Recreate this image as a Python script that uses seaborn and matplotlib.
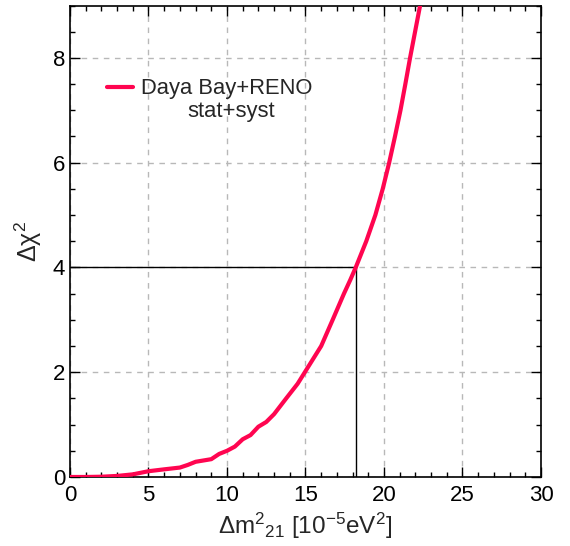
import matplotlib
matplotlib.use("Agg")
import matplotlib.pyplot as plt
import seaborn as sns
import pandas as pd
from matplotlib.ticker import MultipleLocator

# Data
dm2 = [0, 1, 2, 3, 4, 5, 6, 7, 7.5, 8, 9, 9.5, 10, 10.5, 11, 11.5, 12, 12.5,
       13, 13.77, 14.5, 15, 16, 16.73, 17.45, 17.85, 18.2, 18.87, 19.45,
       19.92, 20.33, 20.70, 21.05, 21.36, 21.66, 21.98, 22.3, 22.6]
dchi2 = [0, 0, 0.005, 0.02, 0.05, 0.11, 0.146, 0.18, 0.23, 0.29, 0.34, 0.44,
         0.5, 0.58, 0.72, 0.8, 0.96, 1.05, 1.2, 1.5, 1.78, 2.02, 2.5, 3.0,
         3.5, 3.76, 4.0, 4.5, 5.0, 5.5, 6.0, 6.5, 7.0, 7.5, 8.0, 8.5, 9.0,
         9.4]
series_label = "Daya Bay+RENO"
sub_label = "stat+syst"
cl_x = 18.2
cl_y = 4.0

sns.set_theme(style="ticks")
plt.rcParams['font.family'] = ['Liberation Sans', 'DejaVu Sans']
plt.rcParams['mathtext.fontset'] = 'custom'
plt.rcParams['mathtext.rm'] = 'Liberation Sans'
plt.rcParams['mathtext.it'] = 'Liberation Sans'
plt.rcParams['mathtext.bf'] = 'Liberation Sans'
plt.rcParams['mathtext.default'] = 'regular'

df = pd.DataFrame({"x": dm2, "y": dchi2})

fig = plt.figure(figsize=(5.7, 5.46), dpi=100)
ax = fig.add_axes([0.1228, 0.1264, 0.8263, 0.8635])

sns.lineplot(data=df, x="x", y="y", ax=ax, color="#ff0550", linewidth=3.0,
             label=series_label, zorder=3)

ax.plot([0, cl_x], [cl_y, cl_y], color="black", linewidth=1.0, zorder=2)
ax.plot([cl_x, cl_x], [0, cl_y], color="black", linewidth=1.0, zorder=2)

ax.set_xlim(0, 30)
ax.set_ylim(0, 9)
ax.xaxis.set_major_locator(MultipleLocator(5))
ax.xaxis.set_minor_locator(MultipleLocator(1))
ax.yaxis.set_major_locator(MultipleLocator(2))
ax.yaxis.set_minor_locator(MultipleLocator(0.5))
ax.tick_params(which='both', direction='in', top=True, right=True,
               colors='black', labelsize=16)
ax.tick_params(which='major', length=7, width=1.0)
ax.tick_params(which='minor', length=3.5, width=1.0)
ax.tick_params(axis='x', pad=6)
ax.grid(True, which='major', linestyle=(0, (4, 4)), color='#b8b8b8',
        linewidth=1.0)
for s in ax.spines.values():
    s.set_color('black')
    s.set_linewidth(1.2)

ax.set_xlabel(r'$\Delta m^{2}{}_{21}$ [10$^{-5}$eV$^{2}$]', fontsize=17.5,
              labelpad=3)
ax.set_ylabel(r'$\Delta\chi^{2}$', fontsize=18, labelpad=6)

leg = ax.legend(loc='center left', bbox_to_anchor=(0.0786, 0.823),
                frameon=False, fontsize=15.8, handlelength=1.2,
                handletextpad=0.35, borderpad=0, borderaxespad=0)
ax.text(0.25, 0.776, sub_label, transform=ax.transAxes, fontsize=15.8,
        ha='left', va='center')

fig.savefig("out.png", dpi=100)
